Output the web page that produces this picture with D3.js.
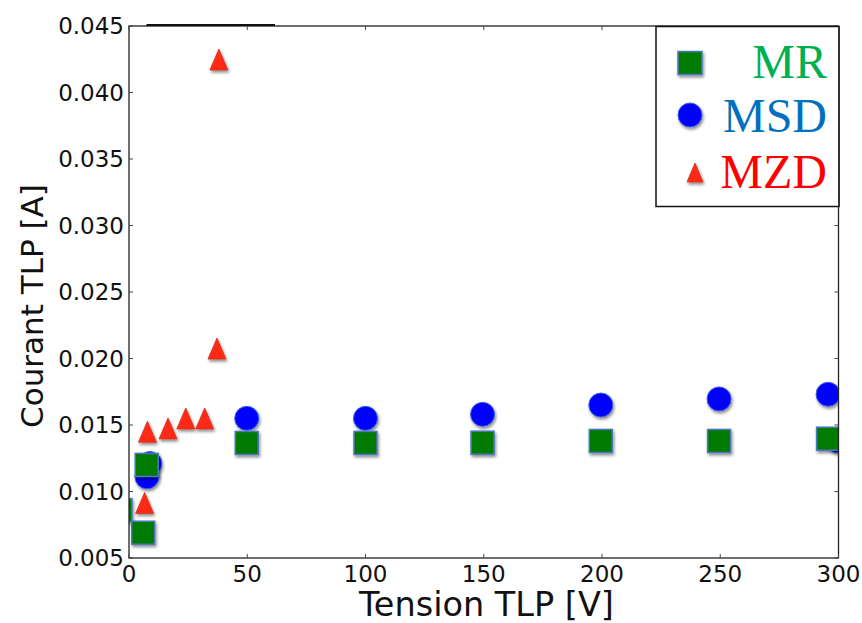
<!DOCTYPE html>
<html>
<head>
<meta charset="utf-8">
<script src="https://cdn.jsdelivr.net/npm/d3@7"></script>
<style>
  html, body { margin: 0; padding: 0; background: #fff; }
  svg { display: block; }
</style>
</head>
<body>
<svg id="chart" width="862" height="623"></svg>
<script>
// ---- data ----
const mrV  = [-3.6, 6.0, 7.5, 49.8, 100, 149.5, 199.5, 249.5, 295.6];
const mrI  = [0.0086, 0.0069, 0.0120, 0.01365, 0.01365, 0.01367, 0.0138, 0.0138, 0.01397];
const msdV = [300, 7.6, 8.8, 49.8, 100, 149.5, 199.5, 249.5, 295.6];
const msdI = [0.0138, 0.0111, 0.0121, 0.0155, 0.0155, 0.0158, 0.0165, 0.01696, 0.01731];
const mzdV = [6.6, 7.8, 16.5, 24.0, 32.0, 37.2, 38.0];
const mzdI = [0.00914, 0.0145, 0.01474, 0.01549, 0.01549, 0.02075, 0.04248];
const xTicks = [0, 50, 100, 150, 200, 250, 300];
const yTicks = [0.005, 0.010, 0.015, 0.020, 0.025, 0.030, 0.035, 0.040, 0.045];
const seriesNames = ["MR", "MSD", "MZD"];
const xLabel = "Tension TLP [V]";
const yLabel = "Courant TLP [A]";

// ---- layout ----
const L = 129, R = 838.5, T = 26, B = 558;
const svg = d3.select("#chart");
const x = d3.scaleLinear().domain([0, 300]).range([L, R]);
const y = d3.scaleLinear().domain([0.005, 0.045]).range([B, T]);

const defs = svg.append("defs");
const f = defs.append("filter").attr("id", "shadow")
  .attr("x", "-50%").attr("y", "-50%").attr("width", "200%").attr("height", "200%");
f.append("feDropShadow").attr("dx", 1.2).attr("dy", 2.2)
  .attr("stdDeviation", 1.4).attr("flood-color", "#000").attr("flood-opacity", 0.45);
defs.append("clipPath").attr("id", "plotclip")
  .append("rect").attr("x", L).attr("y", T).attr("width", R - L).attr("height", B - T);

const fontSans = "'DejaVu Sans', sans-serif";

// ---- marks ----
const plot = svg.append("g").attr("clip-path", "url(#plotclip)");

const sq = 23, cr = 12, triW = 18, triH = 21;
const triPath = (cx, cy, w, h) =>
  `M${cx},${cy - h / 2}L${cx + w / 2},${cy + h / 2}L${cx - w / 2},${cy + h / 2}Z`;

// MZD triangles (bottom layer)
plot.append("g").selectAll("path").data(d3.range(mzdV.length)).join("path")
  .attr("d", i => triPath(x(mzdV[i]), y(mzdI[i]), triW, triH))
  .attr("fill", "#ff2a14").attr("stroke", "#d8301e").attr("stroke-width", 0.8)
  .attr("filter", "url(#shadow)");

// MSD circles
plot.append("g").selectAll("circle").data(d3.range(msdV.length)).join("circle")
  .attr("cx", i => x(msdV[i])).attr("cy", i => y(msdI[i])).attr("r", cr)
  .attr("fill", "#0000ff").attr("stroke", "#3a62e0").attr("stroke-width", 1)
  .attr("filter", "url(#shadow)");

// MR squares (top layer)
plot.append("g").selectAll("rect").data(d3.range(mrV.length)).join("rect")
  .attr("x", i => x(mrV[i]) - sq / 2).attr("y", i => y(mrI[i]) - sq / 2)
  .attr("width", sq).attr("height", sq)
  .attr("fill", "#007a00").attr("stroke", "#4a78c0").attr("stroke-width", 1.5)
  .attr("filter", "url(#shadow)");

// ---- frame & ticks ----
const frame = svg.append("g");
frame.append("rect").attr("x", L).attr("y", T).attr("width", R - L).attr("height", B - T)
  .attr("fill", "none").attr("stroke", "#222").attr("stroke-width", 1.3);

const tickLen = 4;
frame.selectAll(".xtb").data(xTicks).join("line")
  .attr("x1", d => x(d)).attr("x2", d => x(d)).attr("y1", B).attr("y2", B - tickLen)
  .attr("stroke", "#444").attr("stroke-width", 1);
frame.selectAll(".xtt").data(xTicks).join("line")
  .attr("x1", d => x(d)).attr("x2", d => x(d)).attr("y1", T).attr("y2", T + tickLen)
  .attr("stroke", "#444").attr("stroke-width", 1);
frame.selectAll(".ytl").data(yTicks).join("line")
  .attr("x1", L).attr("x2", L + tickLen).attr("y1", d => y(d)).attr("y2", d => y(d))
  .attr("stroke", "#444").attr("stroke-width", 1);
frame.selectAll(".ytr").data(yTicks).join("line")
  .attr("x1", R).attr("x2", R - tickLen).attr("y1", d => y(d)).attr("y2", d => y(d))
  .attr("stroke", "#444").attr("stroke-width", 1);

// stray line above top border
svg.append("line").attr("x1", 146.5).attr("x2", 275).attr("y1", 25).attr("y2", 25)
  .attr("stroke", "#111").attr("stroke-width", 2);

// tick labels
svg.append("g").selectAll("text").data(xTicks).join("text")
  .attr("x", d => x(d)).attr("y", 582)
  .attr("text-anchor", "middle").attr("font-family", fontSans).attr("font-size", 23)
  .attr("fill", "#111").text(d => d3.format("d")(d));
svg.append("g").selectAll("text").data(yTicks).join("text")
  .attr("x", 124).attr("y", d => y(d) + 8.4)
  .attr("text-anchor", "end").attr("font-family", fontSans).attr("font-size", 23)
  .attr("fill", "#111").text(d => d3.format(".3f")(d));

// axis labels
svg.append("text").attr("x", 486.5).attr("y", 616)
  .attr("text-anchor", "middle").attr("font-family", fontSans).attr("font-size", 33.5)
  .attr("fill", "#111").text(xLabel);
svg.append("text")
  .attr("transform", `translate(43, ${(T + B) / 2 + 14}) rotate(-90)`)
  .attr("text-anchor", "middle").attr("font-family", fontSans).attr("font-size", 31)
  .attr("fill", "#111").text(yLabel);

// ---- legend ----
const leg = svg.append("g");
leg.append("rect").attr("x", 656).attr("y", 26.5).attr("width", 183).attr("height", 180)
  .attr("fill", "#fff").attr("stroke", "#111").attr("stroke-width", 1.5);
leg.append("line").attr("x1", 839).attr("x2", 839).attr("y1", 26).attr("y2", 207)
  .attr("stroke", "#333").attr("stroke-width", 2);
const legColors = ["#00b050", "#0070c0", "#ff0000"];
const legBase = [78, 132, 188];
leg.selectAll("text").data(seriesNames).join("text")
  .attr("x", 827).attr("y", (d, i) => legBase[i])
  .attr("text-anchor", "end")
  .attr("font-family", "'Liberation Serif', 'Times New Roman', serif")
  .attr("font-size", 48)
  .attr("fill", (d, i) => legColors[i]).text(d => d);
leg.append("rect").attr("x", 690 - 12).attr("y", 63 - 11.5).attr("width", 24).attr("height", 23)
  .attr("fill", "#007a00").attr("stroke", "#4a78c0").attr("stroke-width", 1.5)
  .attr("filter", "url(#shadow)");
leg.append("circle").attr("cx", 690).attr("cy", 115).attr("r", 12)
  .attr("fill", "#0000ff").attr("stroke", "#3a62e0").attr("stroke-width", 1)
  .attr("filter", "url(#shadow)");
leg.append("path").attr("d", triPath(695, 172.5, 16, 19))
  .attr("fill", "#ff2a14").attr("stroke", "#d8301e").attr("stroke-width", 0.8)
  .attr("filter", "url(#shadow)");
</script>
</body>
</html>
